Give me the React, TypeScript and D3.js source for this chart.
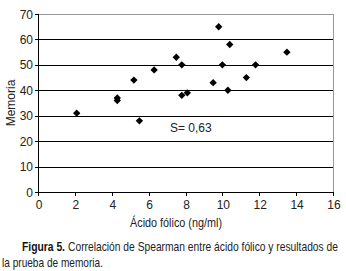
import React from "react";
import * as d3 from "d3";

const folico = [2.1, 4.3, 4.3, 5.2, 5.5, 6.3, 7.5, 7.8, 7.8, 8.1, 9.5, 9.8, 10.0, 10.3, 10.4, 11.3, 11.8, 13.5];
const memoria = [31, 37, 36, 44, 28, 48, 53, 50, 38, 39, 43, 65, 50, 40, 58, 45, 50, 55];
const xTicks = [0, 2, 4, 6, 8, 10, 12, 14, 16];
const yTicks = [0, 10, 20, 30, 40, 50, 60, 70];

const W = 346, H = 271;
const L = 38, R = 333, T = 14, B = 192;
const SX = 0.8;

export default function App() {
  const x = d3.scaleLinear().domain([0, 16]).range([L, R]);
  const y = d3.scaleLinear().domain([0, 70]).range([B, T]);
  const marker = d3.symbol().type(d3.symbolSquare).size(27)();
  const font = "'Liberation Sans', Arial, sans-serif";
  const narrow = (px: number, py: number) => `translate(${px},${py}) scale(${SX},1)`;
  return (
    <svg width={W} height={H} style={{ position: "absolute", left: 0, top: 0, background: "#fff" }} fontFamily={font}>
      <rect x={0} y={0} width={W} height={H} fill="#fff" />
      <line x1={L} x2={R} y1={T + 0.5} y2={T + 0.5} stroke="#999" />
      <line x1={R + 0.5} x2={R + 0.5} y1={T} y2={B} stroke="#999" />
      {yTicks.filter(v => v > 0 && v < 70).map(v => (
        <line key={v} x1={L} x2={R} y1={Math.round(y(v)) + 0.5} y2={Math.round(y(v)) + 0.5} stroke="#000" />
      ))}
      <line x1={L + 0.5} x2={L + 0.5} y1={T} y2={B} stroke="#000" />
      <line x1={L} x2={R + 1} y1={B + 0.5} y2={B + 0.5} stroke="#000" />
      {yTicks.map(v => (
        <g key={v}>
          <line x1={L - 3} x2={L} y1={Math.round(y(v)) + 0.5} y2={Math.round(y(v)) + 0.5} stroke="#000" />
          <text x={L - 5} y={y(v) + 4.5} textAnchor="end" fontSize={12} fill="#222">{v}</text>
        </g>
      ))}
      {xTicks.map(v => (
        <g key={v}>
          <line x1={Math.round(x(v)) + 0.5} x2={Math.round(x(v)) + 0.5} y1={B} y2={B + 4} stroke="#000" />
          <text x={x(v) + 1} y={B + 17} textAnchor="middle" fontSize={12} fill="#222">{v}</text>
        </g>
      ))}
      {folico.map((v, i) => (
        <path key={i} d={marker} transform={`translate(${x(v)},${y(memoria[i])}) rotate(45)`} fill="#000" />
      ))}
      <text x={170} y={132} fontSize={12} fill="#222">S= 0,63</text>
      <text transform={`translate(15,${(T + B) / 2}) rotate(-90)`} textAnchor="middle" fontSize={12} fill="#222">Memoria</text>
      <text transform={narrow(130, 227)} fontSize={13} fill="#222" textLength={92 / SX} lengthAdjust="spacingAndGlyphs">Ácido fólico (ng/ml)</text>
      <text transform={narrow(22, 251)} fontSize={13} fontWeight="bold" fill="#111" textLength={43 / SX} lengthAdjust="spacingAndGlyphs">Figura 5.</text>
      <text transform={narrow(68, 251)} fontSize={13} fill="#222" textLength={270 / SX} lengthAdjust="spacingAndGlyphs">Correlación de Spearman entre ácido fólico y resultados de</text>
      <text transform={narrow(2, 267)} fontSize={13} fill="#222" textLength={101 / SX} lengthAdjust="spacingAndGlyphs">la prueba de memoria.</text>
    </svg>
  );
}
